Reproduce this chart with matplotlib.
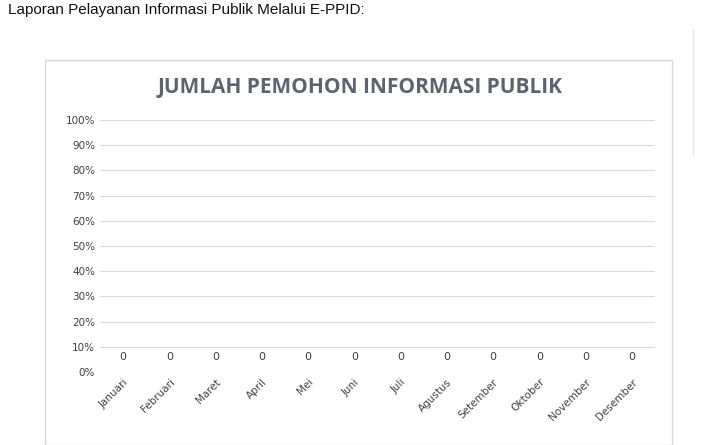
import matplotlib.pyplot as plt
from matplotlib.patches import Rectangle

months = ["Januari","Februari","Maret","April","Mei","Juni","Juli","Agustus",
          "Setember","Oktober","November","Desember"]
values = [0]*12
yticks = [0,0.1,0.2,0.3,0.4,0.5,0.6,0.7,0.8,0.9,1.0]
ylabels = [f"{int(round(t*100))}%" for t in yticks]

fig = plt.figure(figsize=(7.09,4.45), dpi=100)
fig.text(8/709, 1-10/445, "Laporan Pelayanan Informasi Publik Melalui E-PPID:",
         fontsize=11, family="Liberation Sans", va="center", ha="left", color="#111111")
fig.patches.append(Rectangle((45/709, 0), (672-45)/709, 1-60/445, transform=fig.transFigure,
                             fill=False, edgecolor="#d9d9d9", lw=1))
fig.add_artist(plt.Line2D([693/709,693/709],[1-30/445,1-155/445], color="#e6e6e6", lw=1, transform=fig.transFigure))
fig.text(360/709, 1-88/445, "JUMLAH PEMOHON INFORMASI PUBLIK", fontsize=15, fontweight="bold",
         color="#5b6470", ha="center", va="center", family="Open Sans")

ax = fig.add_axes([100/709, 1-372/445, 555/709, 252/445])
x = list(range(len(months)))
ax.bar(x, values, color="#4472c4")
for xi, v in zip(x, values):
    ax.annotate(str(v), (xi, v), xytext=(0, 7), textcoords="offset points",
                ha="center", va="bottom", fontsize=8, color="#404040")
ax.set_xlim(-0.5, 11.5)
ax.set_ylim(0, 1.0)
ax.set_yticks(yticks)
ax.set_yticklabels(ylabels, fontsize=7.5, color="#404040")
ax.set_xticks(x)
ax.set_xticklabels(months, rotation=45, ha="right", rotation_mode="anchor", fontsize=7.5, color="#404040")
ax.tick_params(length=0)
ax.grid(axis="y", color="#d9d9d9", lw=0.8)
ax.set_axisbelow(True)
for s in ax.spines.values():
    s.set_visible(False)
fig.savefig("out.png", dpi=100)
